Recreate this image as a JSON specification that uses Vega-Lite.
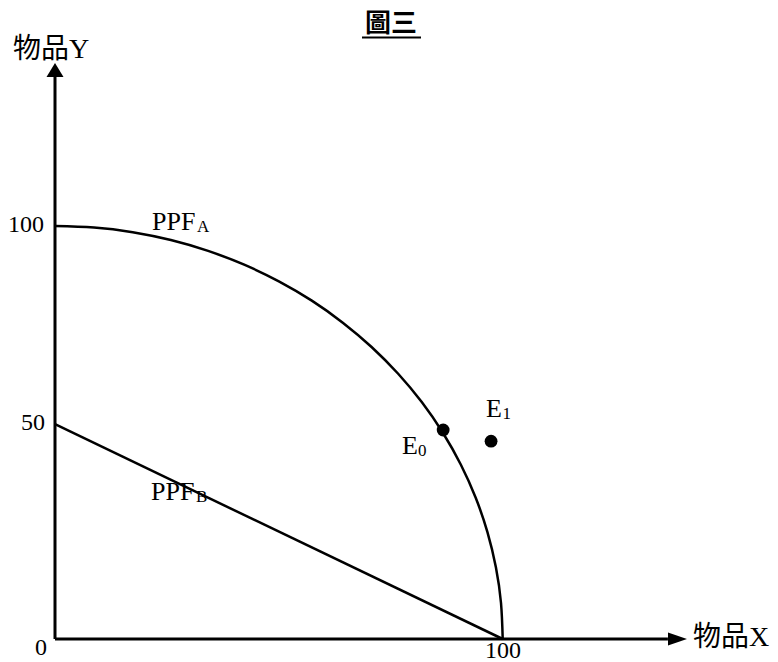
{
  "$schema": "https://vega.github.io/schema/vega-lite/v6.json",
  "width": 778,
  "height": 662,
  "autosize": {"type": "none"},
  "padding": 0,
  "background": "white",
  "config": {"view": {"stroke": null}},
  "datasets": {
    "axes": [
      {"x": 0, "y": 0, "x2": 136.9, "y2": 0},
      {"x": 0, "y": 0, "x2": 0, "y2": 136.1}
    ],
    "underline": [{"x": 68.57, "y": 145.64, "x2": 81.75, "y2": 145.64}],
    "arrowUp": [{"x": 0, "y": 137.77}],
    "arrowRight": [{"x": 139.04, "y": 0}],
    "ppf": [
      {"curve": "A", "x": 0, "y": 100},
      {"curve": "A", "x": 8.72, "y": 99.62},
      {"curve": "A", "x": 17.36, "y": 98.48},
      {"curve": "A", "x": 25.88, "y": 96.59},
      {"curve": "A", "x": 34.2, "y": 93.97},
      {"curve": "A", "x": 42.26, "y": 90.63},
      {"curve": "A", "x": 50, "y": 86.6},
      {"curve": "A", "x": 57.36, "y": 81.92},
      {"curve": "A", "x": 64.28, "y": 76.6},
      {"curve": "A", "x": 70.71, "y": 70.71},
      {"curve": "A", "x": 76.6, "y": 64.28},
      {"curve": "A", "x": 81.92, "y": 57.36},
      {"curve": "A", "x": 86.6, "y": 50},
      {"curve": "A", "x": 90.63, "y": 42.26},
      {"curve": "A", "x": 93.97, "y": 34.2},
      {"curve": "A", "x": 96.59, "y": 25.88},
      {"curve": "A", "x": 98.48, "y": 17.36},
      {"curve": "A", "x": 99.62, "y": 8.72},
      {"curve": "A", "x": 100, "y": 0},
      {"curve": "B", "x": 0, "y": 52},
      {"curve": "B", "x": 100, "y": 0}
    ],
    "points": [
      {"name": "E0", "x": 86.7, "y": 50.6},
      {"name": "E1", "x": 97.4, "y": 47.9}
    ],
    "axisTitles": [
      {"x": -9.38, "y": 140.68, "text": "物品Y"},
      {"x": 142.5, "y": -1.69, "text": "物品X"}
    ],
    "bigText": [
      {"x": 21.67, "y": 99.03, "text": "PPF"},
      {"x": 21.44, "y": 33.66, "text": "PPF"},
      {"x": 96.27, "y": 53.75, "text": "E"},
      {"x": 77.51, "y": 44.79, "text": "E"}
    ],
    "subText": [
      {"x": 31.72, "y": 98.55, "text": "A"},
      {"x": 31.49, "y": 33.17, "text": "B"},
      {"x": 99.95, "y": 53.27, "text": "1"},
      {"x": 81.1, "y": 44.31, "text": "0"}
    ],
    "yTicks": [
      {"x": -2.46, "y": 98.5, "text": "100"},
      {"x": -2.23, "y": 50.6, "text": "50"}
    ],
    "xTicks": [
      {"x": -3.13, "y": -3.87, "text": "0"},
      {"x": 100.07, "y": -4.5, "text": "100"}
    ],
    "title": [{"x": 75.05, "y": 146.97, "text": "圖三"}]
  },
  "layer": [
    {
      "data": {"name": "axes"},
      "mark": {"type": "rule", "strokeWidth": 3, "color": "black"},
      "encoding": {
        "x": {"field": "x", "type": "quantitative", "scale": {"domain": [-12.285, 161.49], "nice": false, "zero": false}, "axis": null},
        "y": {"field": "y", "type": "quantitative", "scale": {"domain": [-5.569, 154.72], "nice": false, "zero": false}, "axis": null},
        "x2": {"field": "x2"},
        "y2": {"field": "y2"}
      }
    },
    {
      "data": {"name": "underline"},
      "mark": {"type": "rule", "strokeWidth": 2, "color": "black"},
      "encoding": {
        "x": {"field": "x", "type": "quantitative", "axis": null},
        "y": {"field": "y", "type": "quantitative", "axis": null},
        "x2": {"field": "x2"},
        "y2": {"field": "y2"}
      }
    },
    {
      "data": {"name": "arrowUp"},
      "mark": {"type": "point", "shape": "M0,-0.82L1,0.82L-1,0.82Z", "size": 289, "filled": true, "color": "black", "opacity": 1},
      "encoding": {
        "x": {"field": "x", "type": "quantitative", "axis": null},
        "y": {"field": "y", "type": "quantitative", "axis": null}
      }
    },
    {
      "data": {"name": "arrowRight"},
      "mark": {"type": "point", "shape": "M1,0L-1,-0.684L-1,0.684Z", "size": 361, "filled": true, "color": "black", "opacity": 1},
      "encoding": {
        "x": {"field": "x", "type": "quantitative", "axis": null},
        "y": {"field": "y", "type": "quantitative", "axis": null}
      }
    },
    {
      "data": {"name": "ppf"},
      "mark": {"type": "line", "strokeWidth": 2.5, "color": "black", "interpolate": "natural"},
      "encoding": {
        "x": {"field": "x", "type": "quantitative", "axis": null},
        "y": {"field": "y", "type": "quantitative", "axis": null},
        "detail": {"field": "curve", "type": "nominal"}
      }
    },
    {
      "data": {"name": "points"},
      "mark": {"type": "point", "shape": "circle", "size": 165, "filled": true, "color": "black", "opacity": 1},
      "encoding": {
        "x": {"field": "x", "type": "quantitative", "axis": null},
        "y": {"field": "y", "type": "quantitative", "axis": null}
      }
    },
    {
      "data": {"name": "axisTitles"},
      "mark": {"type": "text", "align": "left", "baseline": "alphabetic", "fontSize": 28, "font": "Liberation Serif, Noto Sans CJK TC", "color": "black"},
      "encoding": {
        "x": {"field": "x", "type": "quantitative", "axis": null},
        "y": {"field": "y", "type": "quantitative", "axis": null},
        "text": {"field": "text"}
      }
    },
    {
      "data": {"name": "bigText"},
      "mark": {"type": "text", "align": "left", "baseline": "alphabetic", "fontSize": 26, "font": "Liberation Serif", "color": "black"},
      "encoding": {
        "x": {"field": "x", "type": "quantitative", "axis": null},
        "y": {"field": "y", "type": "quantitative", "axis": null},
        "text": {"field": "text"}
      }
    },
    {
      "data": {"name": "subText"},
      "mark": {"type": "text", "align": "left", "baseline": "alphabetic", "fontSize": 17, "font": "Liberation Serif", "color": "black"},
      "encoding": {
        "x": {"field": "x", "type": "quantitative", "axis": null},
        "y": {"field": "y", "type": "quantitative", "axis": null},
        "text": {"field": "text"}
      }
    },
    {
      "data": {"name": "yTicks"},
      "mark": {"type": "text", "align": "right", "baseline": "alphabetic", "fontSize": 24, "font": "Liberation Serif", "color": "black"},
      "encoding": {
        "x": {"field": "x", "type": "quantitative", "axis": null},
        "y": {"field": "y", "type": "quantitative", "axis": null},
        "text": {"field": "text"}
      }
    },
    {
      "data": {"name": "xTicks"},
      "mark": {"type": "text", "align": "center", "baseline": "alphabetic", "fontSize": 24, "font": "Liberation Serif", "color": "black"},
      "encoding": {
        "x": {"field": "x", "type": "quantitative", "axis": null},
        "y": {"field": "y", "type": "quantitative", "axis": null},
        "text": {"field": "text"}
      }
    },
    {
      "data": {"name": "title"},
      "mark": {"type": "text", "align": "center", "baseline": "alphabetic", "fontSize": 26, "fontWeight": "bold", "font": "Noto Sans CJK TC", "color": "black"},
      "encoding": {
        "x": {"field": "x", "type": "quantitative", "axis": null},
        "y": {"field": "y", "type": "quantitative", "axis": null},
        "text": {"field": "text"}
      }
    }
  ]
}
